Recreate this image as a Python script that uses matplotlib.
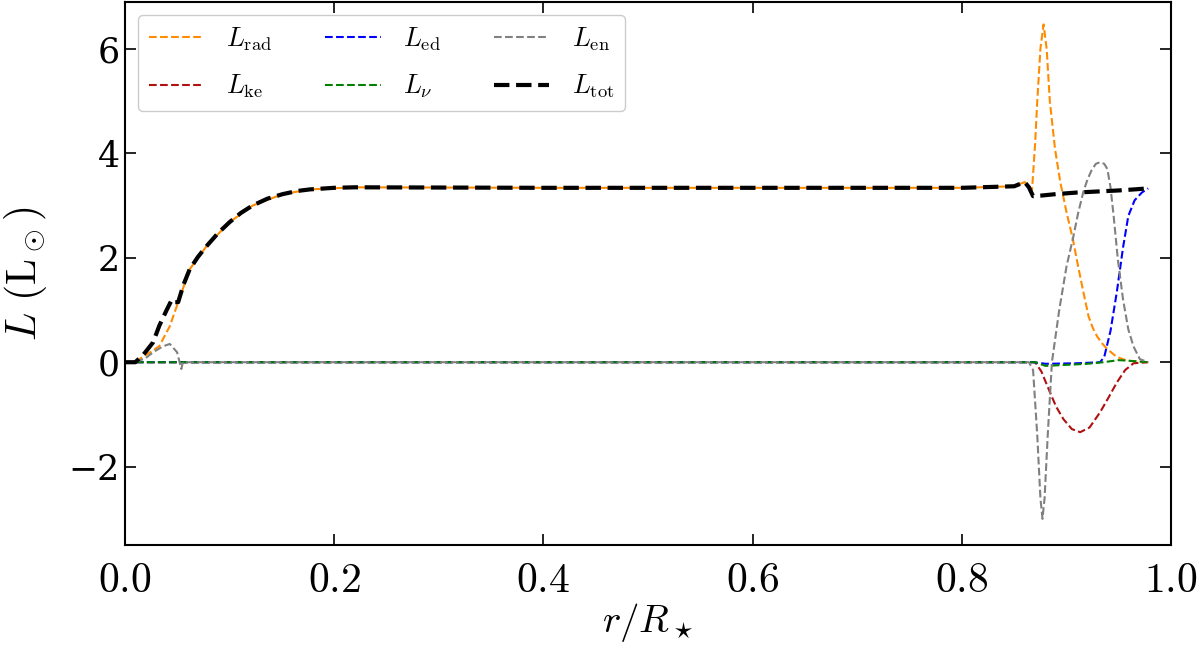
import matplotlib
matplotlib.use("Agg")
import matplotlib.pyplot as plt
from matplotlib.ticker import FuncFormatter, MultipleLocator

plt.rcParams['font.family'] = ['DejaVu Serif']
plt.rcParams['mathtext.fontset'] = 'cm'

# L_rad
r_rad = [0.0, 0.010, 0.017, 0.025, 0.033, 0.043, 0.051, 0.062, 0.078, 0.100, 0.122, 0.151,
         0.177, 0.22, 0.40, 0.60, 0.80, 0.850, 0.860, 0.864, 0.867, 0.870, 0.872, 0.875,
         0.878, 0.881, 0.884, 0.889, 0.894, 0.900, 0.906, 0.911, 0.916, 0.921, 0.925,
         0.929, 0.934, 0.939, 0.948, 0.958, 0.970, 0.978]
L_rad = [0.0, 0.0, 0.10, 0.20, 0.31, 0.69, 1.15, 1.78, 2.22, 2.68, 3.00, 3.22,
         3.31, 3.35, 3.34, 3.34, 3.34, 3.37, 3.45, 3.38, 3.30, 4.2, 5.0, 6.0,
         6.47, 6.0, 5.0, 4.08, 3.45, 2.87, 2.36, 1.84, 1.35, 0.88, 0.66,
         0.50, 0.36, 0.25, 0.10, 0.03, 0.01, 0.0]

# L_tot
r_tot = [0.0, 0.010, 0.018, 0.027, 0.033, 0.040, 0.045, 0.048, 0.051, 0.056, 0.062, 0.070,
         0.078, 0.089, 0.100, 0.111, 0.122, 0.136, 0.151, 0.165, 0.177, 0.20, 0.22, 0.40,
         0.60, 0.80, 0.850, 0.860, 0.864, 0.868, 0.875, 0.890, 0.910, 0.930, 0.950, 0.965,
         0.978]
L_tot = [0.0, 0.0, 0.15, 0.38, 0.70, 1.00, 1.20, 1.15, 1.15, 1.48, 1.78, 2.02,
         2.22, 2.47, 2.68, 2.86, 3.00, 3.13, 3.22, 3.28, 3.31, 3.34, 3.35, 3.34,
         3.34, 3.34, 3.37, 3.45, 3.35, 3.18, 3.19, 3.22, 3.25, 3.27, 3.29, 3.31,
         3.33]

# L_en
r_en = [0.0, 0.010, 0.020, 0.027, 0.036, 0.043, 0.050, 0.054, 0.0555, 0.06, 0.40, 0.80,
        0.864, 0.868, 0.872, 0.875, 0.877, 0.879, 0.882, 0.886, 0.893, 0.900, 0.906, 0.911,
        0.916, 0.920, 0.924, 0.928, 0.932, 0.936, 0.939, 0.942, 0.945, 0.949, 0.954, 0.959,
        0.964, 0.970, 0.978]
L_en = [0.0, 0.0, 0.08, 0.19, 0.30, 0.35, 0.19, -0.13, 0.0, 0.0, 0.0, 0.0,
        0.0, -0.15, -1.4, -2.6, -3.0, -2.6, -1.4, 0.0, 1.0, 1.84, 2.36, 2.85,
        3.26, 3.50, 3.68, 3.80, 3.83, 3.80, 3.70, 3.35, 2.80, 1.97, 1.20, 0.63,
        0.30, 0.06, 0.0]

# L_ed
r_ed = [0.0, 0.40, 0.80, 0.868, 0.880, 0.910, 0.932, 0.936, 0.942, 0.948, 0.954, 0.959,
        0.965, 0.972, 0.978]
L_ed = [0.0, 0.0, 0.0, 0.0, -0.03, -0.02, 0.0, 0.1, 0.6, 1.34, 2.2, 2.8,
        3.1, 3.25, 3.33]

# L_ke
r_ke = [0.0, 0.40, 0.80, 0.870, 0.876, 0.884, 0.890, 0.897, 0.905, 0.913, 0.922, 0.932,
        0.940, 0.948, 0.956, 0.964, 0.978]
L_ke = [0.0, 0.0, 0.0, 0.0, -0.18, -0.57, -0.85, -1.09, -1.28, -1.34, -1.25, -0.96,
        -0.68, -0.39, -0.15, -0.02, 0.0]

# L_nu
r_nu = [0.0, 0.40, 0.80, 0.870, 0.880, 0.900, 0.920, 0.935, 0.950, 0.965, 0.978]
L_nu = [0.0, 0.0, 0.0, 0.0, -0.07, -0.05, -0.03, 0.0, 0.04, 0.02, 0.0]

fig = plt.figure(figsize=(12, 6.48), dpi=100)
ax = fig.add_axes([0.104, 0.159, 0.872, 0.838])

ax.plot(r_rad, L_rad, '--', color='darkorange', lw=1.5, label=r'$L_{\rm rad}$')
ax.plot(r_ke, L_ke, '--', color='#b01010', lw=1.5, label=r'$L_{\rm ke}$')
ax.plot(r_ed, L_ed, '--', color='blue', lw=1.5, label=r'$L_{\rm ed}$')
ax.plot(r_nu, L_nu, '--', color='green', lw=1.5, label=r'$L_{\nu}$')
ax.plot(r_en, L_en, '--', color='gray', lw=1.5, label=r'$L_{\rm en}$')
ax.plot(r_tot, L_tot, '--', color='black', lw=3, label=r'$L_{\rm tot}$')

ax.set_xlim(0, 1)
ax.set_ylim(-3.5, 6.9)
ax.xaxis.set_major_locator(MultipleLocator(0.2))
ax.yaxis.set_major_locator(MultipleLocator(2))
ax.xaxis.set_major_formatter(FuncFormatter(lambda v, p: r'$%.1f$' % v))
ax.tick_params(direction='in', top=True, right=True, length=8, width=1.2, labelsize=25)
ax.tick_params(axis='x', labelsize=30, pad=10)
for s in ax.spines.values():
    s.set_linewidth(1.5)

ax.set_xlabel(r'$r/R_\star$', fontsize=28, labelpad=0)
ax.set_ylabel(r'$L\ (\mathrm{L}_\odot)$', fontsize=30, labelpad=14)

ax.legend(loc='upper left', ncol=3, fontsize=19, framealpha=1, edgecolor='#cccccc',
          handlelength=2.1, handletextpad=0.85, columnspacing=2.0, labelspacing=0.75,
          borderaxespad=0.5)

fig.savefig('out.png', dpi=100)
